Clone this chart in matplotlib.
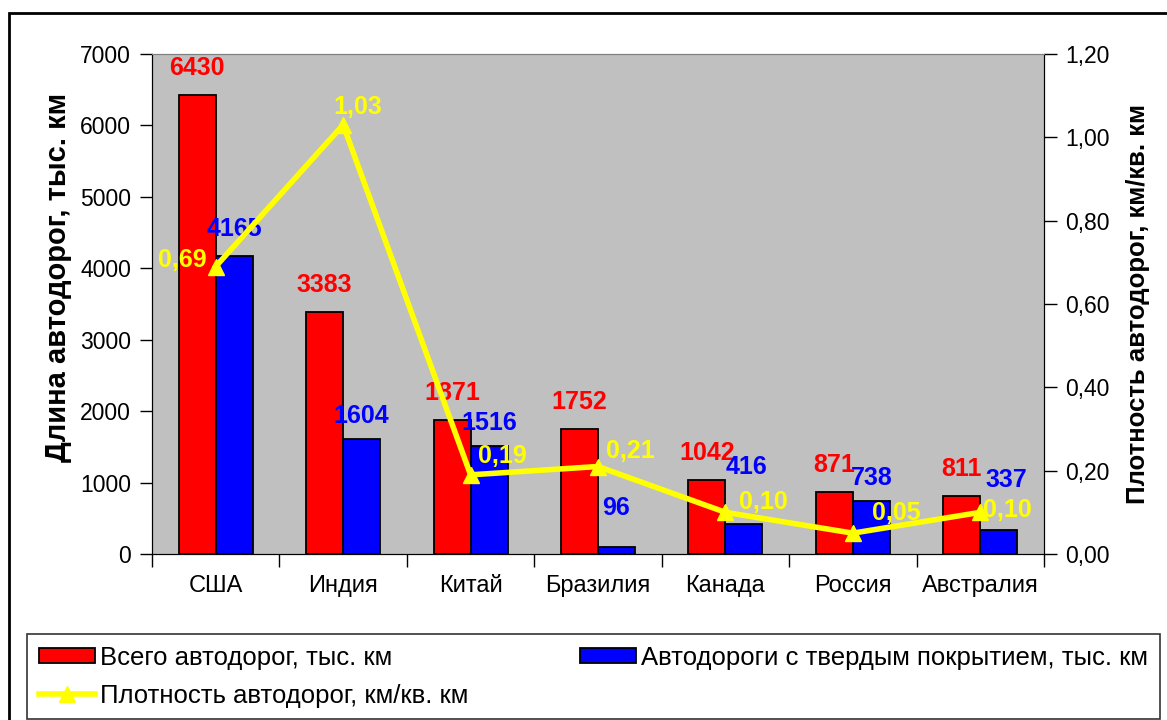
import numpy as np
import matplotlib.pyplot as plt
from matplotlib.patches import Rectangle

# данные
countries = ['США', 'Индия', 'Китай', 'Бразилия', 'Канада', 'Россия', 'Австралия']
total_roads = [6430, 3383, 1871, 1752, 1042, 871, 811]
paved_roads = [4165, 1604, 1516, 96, 416, 738, 337]
density = [0.69, 1.03, 0.19, 0.21, 0.10, 0.05, 0.10]

# смещения подписей (px)
blue_lbl_off = [(0, 27), (0, 23), (0, 23), (0, 39), (3, 57), (0, 23), (8, 50)]
dens_lbl_off = [(-33, 7), (15, 18), (32, 19), (32, 16), (38, 10), (43, 20), (27, 2)]

plt.rcParams['font.family'] = ['Liberation Sans', 'DejaVu Sans']
DPI = 100
px = 72 / DPI

fig = plt.figure(figsize=(11.67, 7.2), dpi=DPI)
fig.patches.append(Rectangle((9 / 1167, -0.01), 1.0, 1 - 13 / 720 + 0.01,
                             transform=fig.transFigure, fill=False,
                             edgecolor='black', linewidth=2))

ax = fig.add_axes([152 / 1167, 1 - 554 / 720, 892 / 1167, 500 / 720])
ax.set_facecolor('#C0C0C0')

x = np.arange(len(countries))
w = 0.29
ax.bar(x - w / 2, total_roads, w, color='#FF0000', edgecolor='black', linewidth=1.3,
       label='Всего автодорог, тыс. км')
ax.bar(x + w / 2, paved_roads, w, color='#0000FF', edgecolor='black', linewidth=1.3,
       label='Автодороги с твердым покрытием, тыс. км')

for i in range(len(x)):
    ax.annotate(str(total_roads[i]), (x[i] - w / 2, total_roads[i]),
                xytext=(0, 27 * px), textcoords='offset points',
                ha='center', va='center', color='#FF0000', fontsize=18, fontweight='bold')
    ax.annotate(str(paved_roads[i]), (x[i] + w / 2, paved_roads[i]),
                xytext=(blue_lbl_off[i][0] * px, blue_lbl_off[i][1] * px),
                textcoords='offset points',
                ha='center', va='center', color='#0000FF', fontsize=18, fontweight='bold')

ax.set_xlim(-0.5, len(x) - 0.5)
ax.set_ylim(0, 7000)
ax.set_yticks(np.arange(0, 7001, 1000))
ax.set_xticks(x)
ax.set_xticklabels(countries, fontsize=17)
ax.tick_params(axis='x', length=0, pad=15)
ax.set_xticks(np.arange(-0.5, len(x), 1), minor=True)
ax.tick_params(axis='x', which='minor', length=9, direction='out', width=1)
ax.tick_params(axis='y', labelsize=16.5, length=9, direction='out', width=1, pad=6)
ax.set_ylabel('Длина автодорог, тыс. км', fontsize=21, fontweight='bold')
ax.yaxis.set_label_coords(-0.09, 0.554)
ax.spines['top'].set_color('#808080')

ax2 = ax.twinx()
ln, = ax2.plot(x, density, color='#FFFF00', linewidth=4, marker='^', markersize=11,
               markerfacecolor='#FFFF00', markeredgecolor='#FFFF00',
               label='Плотность автодорог, км/кв. км')
for i in range(len(x)):
    ax2.annotate(f'{density[i]:.2f}'.replace('.', ','), (x[i], density[i]),
                 xytext=(dens_lbl_off[i][0] * px, dens_lbl_off[i][1] * px),
                 textcoords='offset points', ha='center', va='center',
                 color='#FFFF00', fontsize=18, fontweight='bold')
ax2.set_ylim(0, 1.2)
ax2.set_yticks(np.arange(0, 1.21, 0.2))
ax2.set_yticklabels([f'{v:.2f}'.replace('.', ',') for v in np.arange(0, 1.21, 0.2)])
ax2.tick_params(axis='y', labelsize=16.5, length=9, direction='out', width=1, pad=6)
ax2.set_ylabel('Плотность автодорог, км/кв. км', fontsize=18.5, fontweight='bold', labelpad=12)
ax2.spines['top'].set_color('#808080')

h1, l1 = ax.get_legend_handles_labels()
handles = [h1[0], ln, h1[1]]
labels = [l1[0], ln.get_label(), l1[1]]
leg = fig.legend(handles, labels, ncol=2, loc='upper left',
                 bbox_to_anchor=(27 / 1167, 2 / 720, 1133 / 1167, 84 / 720),
                 mode='expand', fontsize=18.5, frameon=True, fancybox=False,
                 edgecolor='black', handlelength=2.2, handleheight=0.5,
                 handletextpad=0.2, borderaxespad=0, labelspacing=0.55,
                 borderpad=0.45)
leg.get_frame().set_linewidth(1.2)

fig.savefig('out.png', dpi=DPI)
